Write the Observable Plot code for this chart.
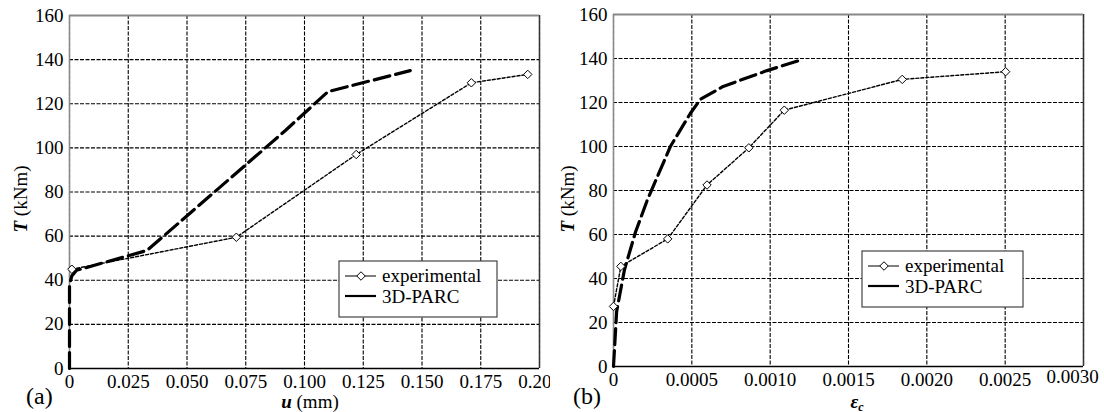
<!DOCTYPE html>
<html><head><meta charset="utf-8">
<script src="https://cdn.jsdelivr.net/npm/d3@7"></script>
<script src="https://cdn.jsdelivr.net/npm/@observablehq/plot@0.6"></script>
<style>
body{margin:0;background:#fff;}
#wrap{position:relative;width:1104px;height:412px;font-family:"Liberation Serif","Times New Roman",Times,"DejaVu Serif",serif;}
#wrap svg{position:absolute;top:0;}
#wrap svg text{font-family:"Liberation Serif","Times New Roman",Times,"DejaVu Serif",serif !important;}
</style></head><body><div id="wrap"></div>
<script>
// ---- data ----
const seriesNames = ["experimental", "3D-PARC"];
// panel (a): torque T (kNm) vs displacement u (mm)
const uExp  = [0.001, 0.071, 0.122, 0.171, 0.195];
const tExpA = [45, 59.5, 97, 129.5, 133.3];
const uParc = [0, 0, 0.001, 0.003, 0.033, 0.092, 0.110, 0.145];
const tParcA = [0, 38, 42, 44.5, 53.5, 108, 125.5, 135];
// panel (b): torque T (kNm) vs concrete strain eps_c
const eExp  = [0.0, 0.000047, 0.000346, 0.000597, 0.000864, 0.00109, 0.001843, 0.002503];
const tExpB = [27.3, 45.5, 58, 82.5, 99.4, 116.5, 130.5, 134];
const eParc = [0, 0.00002, 0.00007, 0.00014, 0.000215, 0.000363, 0.00049, 0.000554, 0.0007, 0.00098, 0.0012];
const tParcB = [0, 25, 44, 61, 75.5, 100, 115, 121.4, 127.3, 134.5, 139.4];
// ticks
const uTicks = [0, 0.025, 0.05, 0.075, 0.1, 0.125, 0.15, 0.175, 0.2];
const eTicks = [0, 0.0005, 0.001, 0.0015, 0.002, 0.0025, 0.003];
const tTicks = [0, 20, 40, 60, 80, 100, 120, 140, 160];
const panelTags = ["(a)", "(b)"];

const zip = (xs, ys) => xs.map((x, i) => ({x, y: ys[i]}));
const FS = "19px";
const FF = '"Liberation Serif","Times New Roman",Times,"DejaVu Serif",serif';
const wrap = document.getElementById("wrap");

function panel(o) {
  const xmax = o.xTicks[o.xTicks.length - 1];
  const exp = zip(o.xe, o.ye), parc = zip(o.xp, o.yp);
  const svg = Plot.plot({
    width: o.width, height: 412,
    marginLeft: o.ml, marginRight: o.mr, marginTop: o.mt, marginBottom: o.mb,
    style: {fontSize: FS, fontFamily: FF, color: "black", background: "white", overflow: "visible"},
    x: {domain: [0, xmax], ticks: o.xTicks, tickFormat: o.fmt, tickSize: 0, tickPadding: 6, label: null, fontFamily: FF},
    y: {domain: [0, 160], ticks: tTicks, tickSize: 0, tickPadding: 6, label: null, fontFamily: FF},
    marks: [
      Plot.gridX(o.xTicks, {stroke: "black", strokeOpacity: 1, strokeWidth: 1.1, strokeDasharray: "4,1.5"}),
      Plot.gridY(tTicks, {stroke: "black", strokeOpacity: 1, strokeWidth: 1.1, strokeDasharray: "4,1.5"}),
      Plot.ruleY([0], {stroke: "black", strokeWidth: 1.5}),
      Plot.ruleX([xmax], {stroke: "#333", strokeWidth: 1.5}),
      Plot.ruleY([160], {stroke: "#888", strokeWidth: 2}),
      Plot.ruleX([0], {stroke: "#888", strokeWidth: 1.5}),
      Plot.line(parc, {x: "x", y: "y", stroke: "black", strokeWidth: 3.2, strokeDasharray: "16,6"}),
      Plot.line(exp, {x: "x", y: "y", stroke: "black", strokeWidth: 1.4, strokeDasharray: "3,2"}),
      Plot.dot(exp, {x: "x", y: "y", symbol: "diamond2", r: 3.8, fill: "white", stroke: "black", strokeWidth: 1})
    ]
  });
  svg.style.left = o.left + "px";
  svg.setAttribute("font-family", FF);
  wrap.appendChild(svg);
  const s = d3.select(svg);
  s.selectAll("text").attr("font-family", FF);
  const txt = (sel) => sel.attr("font-family", FF).style("font-size", FS);
  // y label
  const yl = txt(s.append("text")).attr("transform", `translate(${o.ylx},199) rotate(-90)`)
    .attr("text-anchor", "middle").attr("dy", "0.35em");
  yl.append("tspan").attr("font-weight", "bold").attr("font-style", "italic").text("T");
  yl.append("tspan").text(" (kNm)");
  // x label
  const xl = txt(s.append("text")).attr("x", o.xlx).attr("y", 408).attr("text-anchor", "middle");
  o.xlabel(xl);
  // panel tag
  txt(s.append("text")).attr("x", o.tagx).attr("y", 404).attr("text-anchor", "start")
    .style("font-size", "24px").text(o.tag);
  // legend
  const L = o.leg;
  const g = s.append("g");
  g.append("rect").attr("x", L.x).attr("y", L.y).attr("width", L.w).attr("height", L.h)
    .attr("fill", "white").attr("stroke", "#444").attr("stroke-width", 1.2);
  g.append("line").attr("x1", L.x + 6).attr("x2", L.x + 37).attr("y1", L.y + 15).attr("y2", L.y + 15)
    .attr("stroke", "black").attr("stroke-width", 1);
  g.append("path").attr("d", d3.symbol(d3.symbolDiamond2, 46)()).attr("transform", `translate(${L.x + 22},${L.y + 15})`)
    .attr("fill", "white").attr("stroke", "black");
  g.append("line").attr("x1", L.x + 6).attr("x2", L.x + 37).attr("y1", L.y + 35).attr("y2", L.y + 35)
    .attr("stroke", "black").attr("stroke-width", 2.2);
  txt(g.append("text")).attr("text-anchor", "start").attr("x", L.x + 43).attr("y", L.y + 21).text(seriesNames[0]);
  txt(g.append("text")).attr("text-anchor", "start").attr("x", L.x + 43).attr("y", L.y + 42).text(seriesNames[1]);
  return s;
}

panel({
  left: 0, width: 550, ml: 69, mr: 11, mt: 15, mb: 44,
  xTicks: uTicks, fmt: d => d === 0 ? "0" : d3.format(".3f")(d),
  xe: uExp, ye: tExpA, xp: uParc, yp: tParcA,
  ylx: 20, xlx: 310, tagx: 26, tag: panelTags[0],
  xlabel: t => { t.append("tspan").attr("font-weight", "bold").attr("font-style", "italic").text("u"); t.append("tspan").text(" (mm)"); },
  leg: {x: 339, y: 261, w: 158, h: 56}
});

const sb = panel({
  left: 550, width: 554, ml: 63, mr: 21, mt: 14, mb: 46,
  xTicks: eTicks, fmt: d => d === 0 ? "0" : d3.format(".4f")(d),
  xe: eExp, ye: tExpB, xp: eParc, yp: tParcB,
  ylx: 17, xlx: 307, tagx: 23, tag: panelTags[1],
  xlabel: t => { t.append("tspan").attr("font-weight", "bold").attr("font-style", "italic").text("ε");
                 t.append("tspan").attr("font-weight", "bold").attr("font-style", "italic").attr("dy", "3").style("font-size", "12px").text("c"); },
  leg: {x: 312, y: 251, w: 161, h: 56}
});
// the last strain tick label sits a little left and higher in the reference
const lbls = sb.selectAll('g[aria-label="x-axis tick label"] text').nodes();
if (lbls.length) { const last = lbls[lbls.length - 1]; last.setAttribute("transform", (last.getAttribute("transform") || "") + " translate(-11,-3)"); }
</script>
</body></html>
